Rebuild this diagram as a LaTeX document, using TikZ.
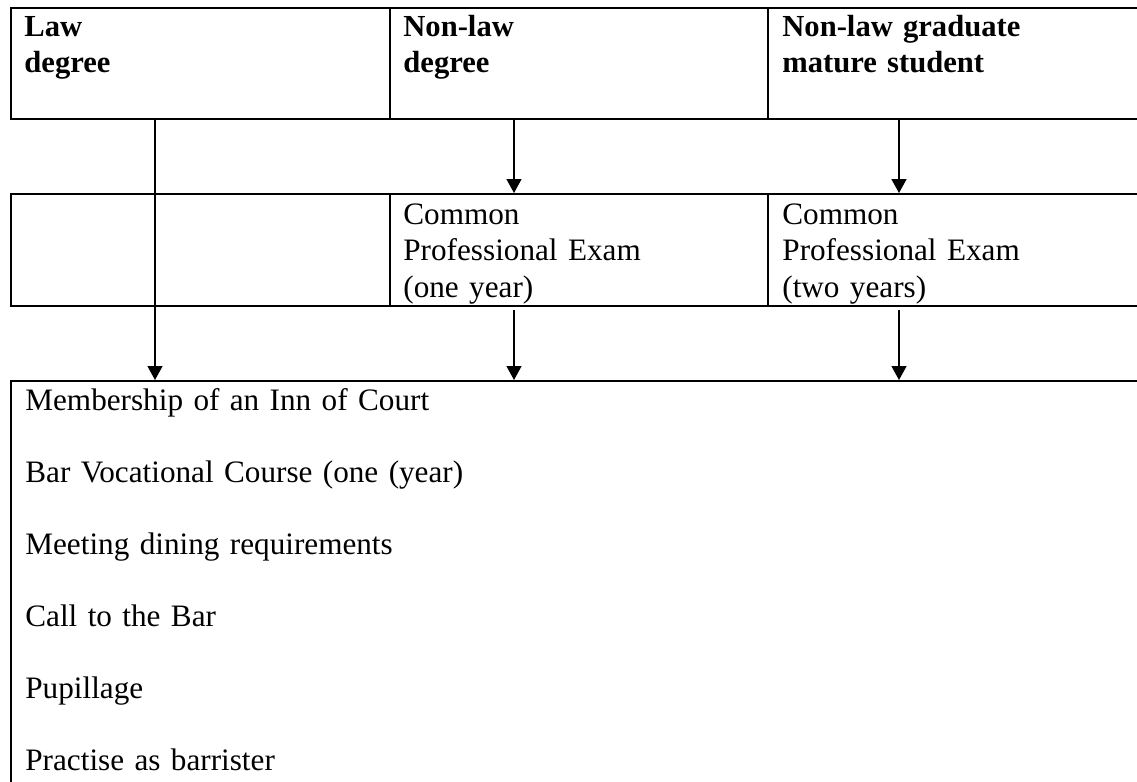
\documentclass[tikz,border=0pt]{standalone}
\usepackage{fontspec}
\setmainfont{Liberation Serif}
\usetikzlibrary{arrows.meta}

\begin{document}
\begin{tikzpicture}[>={Triangle[width=7.5pt,length=7pt]}, x=0.5pt, y=-0.5pt,
  cell/.style={draw, line width=1pt, inner sep=0pt, anchor=north west},
  txt/.style={anchor=base west, inner sep=0pt, text width=250pt, align=left,
    font=\fontsize{15.6pt}{18.25pt}\selectfont},
  head/.style={txt, font=\fontsize{15.3pt}{18.25pt}\selectfont\bfseries},
  steps/.style={txt, text width=500pt, font=\fontsize{15.6pt}{36pt}\selectfont},
  arr/.style={->, line width=0.7pt}]
  \useasboundingbox (0,0) rectangle (1137,782);
  % entry row
  \node[cell, minimum width=189.5pt, minimum height=55.5pt] (law) at (10,7) {};
  \node[cell, minimum width=189pt, minimum height=55.5pt] (nonlaw) at (389,7) {};
  \node[cell, minimum width=200pt, minimum height=55.5pt] (mature) at (767,7) {};
  \node[head] (lawtxt) at ([xshift=7pt, yshift=-14.5pt]law.north west) {Law\\degree};
  \node[head] (nonlawtxt) at ([xshift=7pt, yshift=-14.5pt]nonlaw.north west) {Non-law\\degree};
  \node[head] (maturetxt) at ([xshift=7.5pt, yshift=-14.5pt]mature.north west) {Non-law graduate\\mature student};
  % conversion row
  \node[cell, minimum width=189.5pt, minimum height=56pt] (blank) at (10,193) {};
  \node[cell, minimum width=189pt, minimum height=56pt] (cpeone) at (389,193) {};
  \node[cell, minimum width=200pt, minimum height=56pt] (cpetwo) at (767,193) {};
  \node[txt] (cpeonetxt) at ([xshift=7pt, yshift=-15.5pt]cpeone.north west) {Common\\Professional Exam\\(one year)};
  \node[txt] (cpetwotxt) at ([xshift=7.5pt, yshift=-15.5pt]cpetwo.north west) {Common\\Professional Exam\\(two years)};
  % vocational stage
  \node[cell, minimum width=580pt, minimum height=215pt] (bar) at (10,380) {};
  \node[steps] (bartxt) at ([xshift=7.5pt, yshift=-15pt]bar.north west)
    {Membership of an Inn of Court\\Bar Vocational Course (one (year)\\Meeting dining requirements\\Call to the Bar\\Pupillage\\Practise as barrister};
  % routes
  \draw[arr] ([xshift=72.5pt]law.south west) -- ([xshift=72.5pt]law.south west |- bar.north);
  \draw[arr] ([xshift=62.5pt]nonlaw.south west) -- ([xshift=62.5pt]nonlaw.south west |- cpeone.north);
  \draw[arr] ([xshift=66pt]mature.south west) -- ([xshift=66pt]mature.south west |- cpetwo.north);
  \draw[arr] ([xshift=62.5pt, yshift=-1.5pt]cpeone.south west) -- ([xshift=62.5pt]cpeone.south west |- bar.north);
  \draw[arr] ([xshift=66pt, yshift=-1.5pt]cpetwo.south west) -- ([xshift=66pt]cpetwo.south west |- bar.north);
\end{tikzpicture}
\end{document}
